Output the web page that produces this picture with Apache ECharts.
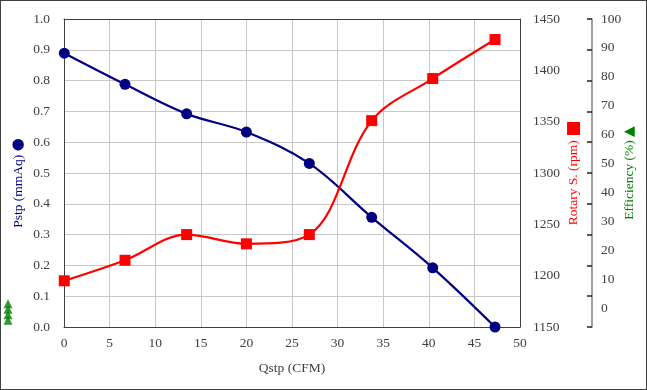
<!DOCTYPE html>
<html><head><meta charset="utf-8">
<script src="https://cdn.jsdelivr.net/npm/echarts@6/dist/echarts.min.js"></script>
<style>html,body{margin:0;padding:0;background:#fff;}#c{width:647px;height:390px;box-sizing:border-box;border:1px solid #404040;}</style>
</head><body><div id="c"></div>
<script>
// Data
var qstp = [0.03, 6.69, 13.45, 20.0, 26.9, 33.74, 40.43, 47.26];
var pstp = [0.889, 0.788, 0.692, 0.633, 0.531, 0.356, 0.192, 0.0];
var rotary = [1195, 1215, 1240, 1231, 1240, 1351, 1392, 1430];
var effLegendMarks = [0, 1, 2, 3];
var xTicks = [0, 50, 5];
var pTicks = [0, 1, 0.1];
var rTicks = [1150, 1450, 50];
var eLabels = [0, 10, 20, 30, 40, 50, 60, 70, 80, 90, 100];

var effMin = -6.4, effMax = 100;
var effTicks = [];
for (var i = 0; i <= 10; i++) effTicks.push(effMin + (effMax - effMin) * i / 10);

var FONT = '"Liberation Serif","Times New Roman",serif';
var LBL = '#404040';
var FS = 13.5;
var chart = echarts.init(document.getElementById('c'), null, {renderer: 'canvas'});
chart.setOption({
  animation: false,
  grid: [
    {left: 63, right: 126, top: 18, bottom: 62, show: false, containLabel: false, outerBoundsMode: 'none'},
    {left: 2, width: 10, top: 300, height: 22, show: false, containLabel: false, outerBoundsMode: 'none'}
  ],
  xAxis: [{
    type: 'value', min: xTicks[0], max: xTicks[1], interval: xTicks[2], gridIndex: 0,
    name: 'Qstp (CFM)', nameLocation: 'middle', nameGap: 34, nameMoveOverlap: false,
    nameTextStyle: {fontFamily: FONT, fontSize: FS, color: LBL},
    axisLine: {show: true, onZero: false, lineStyle: {color: '#404040', width: 1}},
    axisTick: {show: false},
    axisLabel: {fontFamily: FONT, fontSize: FS, color: LBL, margin: 9},
    splitLine: {show: true, lineStyle: {color: '#c8c8c8', width: 1}}
  }, {
    type: 'value', gridIndex: 0, position: 'top', min: 0, max: 1,
    axisLine: {show: true, onZero: false, lineStyle: {color: '#404040'}}, axisTick: {show: false}, axisLabel: {show: false}, splitLine: {show: false}
  }, {
    type: 'value', gridIndex: 1, min: -1, max: 1, show: false
  }],
  yAxis: [{
    type: 'value', min: pTicks[0], max: pTicks[1], interval: pTicks[2], gridIndex: 0,
    name: '{t|Pstp (mmAq)} {m|●}', nameLocation: 'middle', nameGap: 38, nameRotate: 90, nameMoveOverlap: false,
    nameTextStyle: {padding: [0, 20, 0, 0], rich: {
      t: {fontFamily: FONT, fontSize: FS, color: '#000080'},
      m: {fontFamily: 'DejaVu Sans', fontSize: 15, color: '#000080'}
    }},
    axisLine: {show: true, onZero: false, lineStyle: {color: '#404040'}},
    axisTick: {show: false},
    axisLabel: {fontFamily: FONT, fontSize: FS, color: LBL, margin: 14, formatter: function (v) { return v.toFixed(1); }},
    splitLine: {show: true, lineStyle: {color: '#c8c8c8', width: 1}}
  }, {
    type: 'value', min: rTicks[0], max: rTicks[1], interval: rTicks[2], gridIndex: 0, position: 'right',
    name: '{t|Rotary S. (rpm)} {m|■}', nameLocation: 'middle', nameGap: 45, nameRotate: 90, nameMoveOverlap: false,
    nameTextStyle: {rich: {
      t: {fontFamily: FONT, fontSize: FS, color: '#ff0000'},
      m: {fontFamily: 'DejaVu Sans', fontSize: 17, color: '#ff0000'}
    }},
    axisLine: {show: true, onZero: false, lineStyle: {color: '#404040'}},
    axisTick: {show: false},
    axisLabel: {fontFamily: FONT, fontSize: FS, color: LBL, margin: 13, formatter: function (v) { return String(v); }},
    splitLine: {show: false}
  }, {
    type: 'value', min: effMin, max: effMax, gridIndex: 0, position: 'right', offset: 72,
    name: '{t|Efficiency (%)} {m|▲}', nameLocation: 'middle', nameGap: 30, nameRotate: 90, nameMoveOverlap: false,
    nameTextStyle: {rich: {
      t: {fontFamily: FONT, fontSize: FS, color: '#008000'},
      m: {fontFamily: 'DejaVu Sans', fontSize: 14, color: '#008000'}
    }},
    axisLine: {show: true, onZero: false, lineStyle: {color: '#808080', width: 1.5}},
    axisTick: {show: true, inside: true, length: 5, customValues: effTicks, lineStyle: {color: '#202020', width: 1.5}},
    axisLabel: {fontFamily: FONT, fontSize: FS, color: LBL, margin: 9, customValues: eLabels},
    splitLine: {show: false}
  }, {
    type: 'value', gridIndex: 1, min: -0.5, max: 3.5, show: false
  }],
  series: [{
    type: 'line', name: 'Pstp', xAxisIndex: 0, yAxisIndex: 0,
    data: qstp.map(function (q, i) { return [q, pstp[i]]; }),
    smooth: 0.35, symbol: 'circle', symbolSize: 11,
    lineStyle: {color: '#000080', width: 2.2}, itemStyle: {color: '#000080'}, z: 3
  }, {
    type: 'line', name: 'Rotary', xAxisIndex: 0, yAxisIndex: 1,
    data: qstp.map(function (q, i) { return [q, rotary[i]]; }),
    smooth: 0.35, symbol: 'rect', symbolSize: 11,
    lineStyle: {color: '#ff0000', width: 2.2}, itemStyle: {color: '#ff0000'}, z: 4
  }, {
    type: 'scatter', name: 'Efficiency', xAxisIndex: 2, yAxisIndex: 3,
    data: effLegendMarks.map(function (v) { return [0, v]; }),
    symbol: 'triangle', symbolSize: [9, 9], itemStyle: {color: '#008000'}
  }]
});
</script></body></html>
